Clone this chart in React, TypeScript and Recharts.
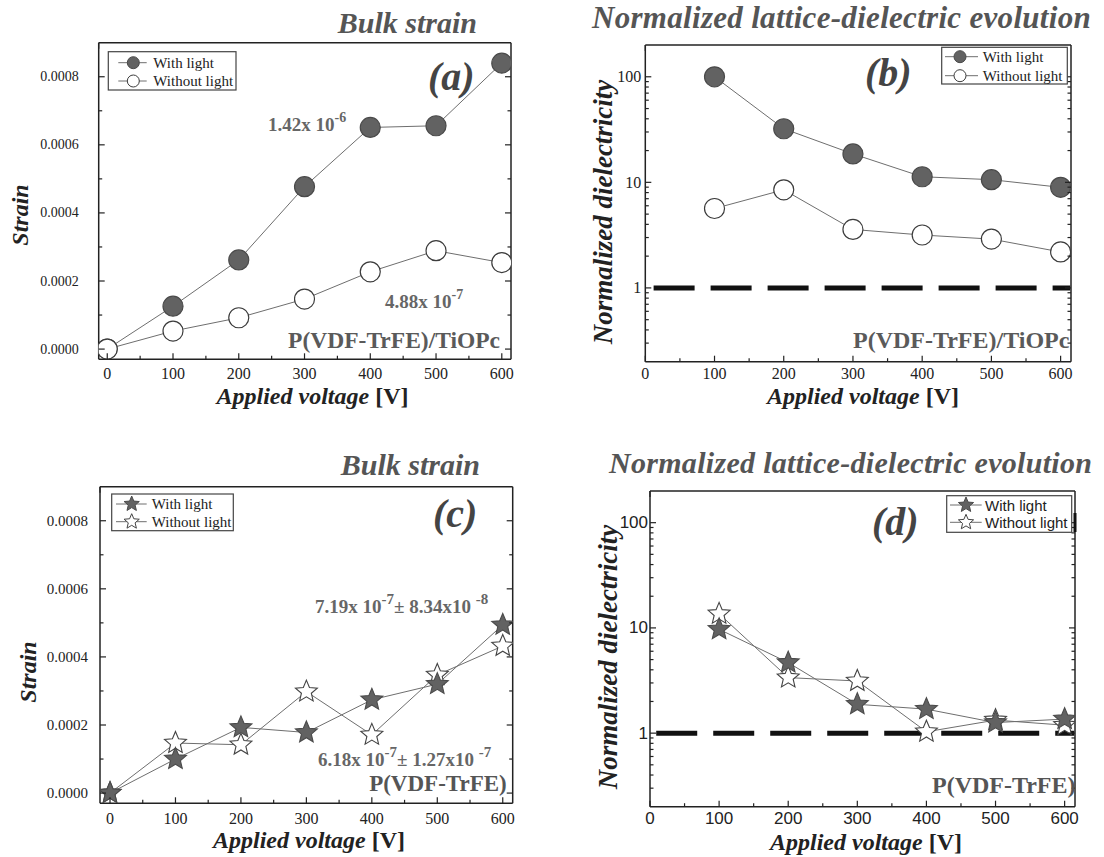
import React from "react";
import { LineChart, Line, XAxis, YAxis, ReferenceLine } from "recharts";

// ---- data ----
const voltage = [0, 100, 200, 300, 400, 500, 600];
const voltageLog = [100, 200, 300, 400, 500, 600];

const strainLightA = [0, 0.000126, 0.000262, 0.000477, 0.000651, 0.000656, 0.00084];
const strainDarkA = [0, 0.000053, 0.000092, 0.000147, 0.000227, 0.000289, 0.000254];

const dielLightB = [100, 32.2, 18.6, 11.3, 10.6, 8.97];
const dielDarkB = [5.65, 8.5, 3.58, 3.17, 2.9, 2.19];

const strainLightC = [0, 0.0001, 0.000193, 0.000178, 0.000274, 0.00032, 0.000494];
const strainDarkC = [0, 0.000147, 0.000142, 0.000298, 0.000171, 0.000347, 0.000432];

const dielLightD = [9.7, 4.68, 1.88, 1.69, 1.26, 1.36];
const dielDarkD = [13.6, 3.37, 3.13, 1.03, 1.33, 1.19];

const voltTicks = [0, 50, 100, 150, 200, 250, 300, 350, 400, 450, 500, 550, 600];
const strainTicks = [0, 0.0001, 0.0002, 0.0003, 0.0004, 0.0005, 0.0006, 0.0007, 0.0008];
const logTicks = [
  0.3, 0.4, 0.5, 0.6, 0.7, 0.8, 0.9, 1, 2, 3, 4, 5, 6, 7, 8, 9, 10, 20, 30, 40, 50, 60, 70, 80, 90, 100,
];
const logLabels = [1, 10, 100];

const dataA = voltage.map((v, i) => ({ v, light: strainLightA[i], dark: strainDarkA[i] }));
const dataB = voltageLog.map((v, i) => ({ v, light: dielLightB[i], dark: dielDarkB[i] }));
const dataC = voltage.map((v, i) => ({ v, light: strainLightC[i], dark: strainDarkC[i] }));
const dataD = voltageLog.map((v, i) => ({ v, light: dielLightD[i], dark: dielDarkD[i] }));

const SERIF = "'Liberation Serif', 'Times New Roman', serif";
const SANS = "'Liberation Sans', Arial, sans-serif";
const AXIS = "#222";
const FILL = "#626262";
const EDGE = "#4a4a4a";
const LINE = "#6e6e6e";

type Side = "bottom" | "top" | "left" | "right";

function makeTick(
  side: Side,
  isMajor: (v: number) => boolean,
  fmt: ((v: number) => string) | null,
  font: string,
  size: number,
  gap: number
) {
  return (p: any) => {
    const { x, y, payload } = p;
    const v = payload.value;
    const major = isMajor(v);
    const len = major ? 6 : 3.5;
    let x2 = x;
    let y2 = y;
    if (side === "bottom") y2 = y - len;
    if (side === "top") y2 = y + len;
    if (side === "left") x2 = x + len;
    if (side === "right") x2 = x - len;
    return (
      <g>
        <line x1={x} y1={y} x2={x2} y2={y2} stroke={AXIS} strokeWidth={1.2} />
        {major && fmt && side === "bottom" && (
          <text x={x} y={y + gap} textAnchor="middle" dominantBaseline="central" fontFamily={font} fontSize={size} fill="#222">
            {fmt(v)}
          </text>
        )}
        {major && fmt && side === "left" && (
          <text x={x - gap} y={y} textAnchor="end" dominantBaseline="central" fontFamily={font} fontSize={size} fill="#222">
            {fmt(v)}
          </text>
        )}
      </g>
    );
  };
}

const isVoltMajor = (v: number) => v % 100 === 0;
const isStrainMajor = (v: number) => Math.round(v * 10000) % 2 === 0;
const isLogMajor = (v: number) => logLabels.includes(v);

interface AxisCfg {
  xDomain: [number, number];
  yDomain: [number, number];
  log: boolean;
  font: string;
  xSize: number;
  xGap: number;
  ySize: number;
  yGap: number;
}

// axes are 1px thick so the plot area is set by the margins (minus 1 on each side)
function frameAxes(c: AxisCfg) {
  const yTicks = c.log ? logTicks : strainTicks;
  const yMajor = c.log ? isLogMajor : isStrainMajor;
  const yFmt = c.log ? (v: number) => String(v) : (v: number) => v.toFixed(4);
  const axisLine = { stroke: AXIS, strokeWidth: 1.5 };
  return [
    <XAxis
      key="xb"
      xAxisId={0}
      type="number"
      dataKey="v"
      domain={c.xDomain}
      ticks={voltTicks}
      interval={0}
      height={1}
      tickSize={0}
      tickMargin={0}
      tickLine={false}
      axisLine={axisLine}
      allowDataOverflow
      tick={makeTick("bottom", isVoltMajor, (v) => String(v), c.font, c.xSize, c.xGap)}
    />,
    <XAxis
      key="xt"
      xAxisId="top"
      orientation="top"
      type="number"
      domain={c.xDomain}
      ticks={voltTicks}
      interval={0}
      height={1}
      tickSize={0}
      tickMargin={0}
      tickLine={false}
      axisLine={axisLine}
      allowDataOverflow
      tick={makeTick("top", isVoltMajor, null, c.font, c.xSize, 0)}
    />,
    <YAxis
      key="yl"
      yAxisId={0}
      type="number"
      scale={c.log ? "log" : "auto"}
      domain={c.yDomain}
      ticks={yTicks}
      interval={0}
      width={1}
      tickSize={0}
      tickMargin={0}
      tickLine={false}
      axisLine={axisLine}
      allowDataOverflow
      tick={makeTick("left", yMajor, yFmt, c.font, c.ySize, c.yGap)}
    />,
    <YAxis
      key="yr"
      yAxisId="right"
      orientation="right"
      type="number"
      scale={c.log ? "log" : "auto"}
      domain={c.yDomain}
      ticks={yTicks}
      interval={0}
      width={1}
      tickSize={0}
      tickMargin={0}
      tickLine={false}
      axisLine={axisLine}
      allowDataOverflow
      tick={makeTick("right", yMajor, null, c.font, c.ySize, 0)}
    />,
  ];
}

function starPoints(cx: number, cy: number, R: number, r: number) {
  const pts: string[] = [];
  for (let i = 0; i < 10; i++) {
    const a = -Math.PI / 2 + (i * Math.PI) / 5;
    const rad = i % 2 === 0 ? R : r;
    pts.push(`${cx + rad * Math.cos(a)},${cy + rad * Math.sin(a)}`);
  }
  return pts.join(" ");
}

const circleDot = (filled: boolean) => (p: any) => (
  <circle
    key={`c${p.index}`}
    cx={p.cx}
    cy={p.cy}
    r={10}
    fill={filled ? FILL : "#fff"}
    stroke={filled ? EDGE : "#3c3c3c"}
    strokeWidth={1.2}
  />
);

const starDot = (filled: boolean) => (p: any) => (
  <polygon
    key={`s${p.index}`}
    points={starPoints(p.cx, p.cy, 11.5, 5.2)}
    fill={filled ? FILL : "#fff"}
    stroke={filled ? EDGE : "#444"}
    strokeWidth={1.1}
  />
);

function Sup({ x, y, parts, size, supSize, fill, anchor }: any) {
  let up = false;
  return (
    <text x={x} y={y} fontFamily={SERIF} fontWeight="bold" fontSize={size} fill={fill} textAnchor={anchor || "start"}>
      {parts.map((pt: [string, boolean], i: number) => {
        const [t, s] = pt;
        let dy = 0;
        if (s && !up) dy = -9;
        if (!s && up) dy = 9;
        up = s;
        return (
          <tspan key={i} dy={dy} fontSize={s ? supSize : size}>
            {t}
          </tspan>
        );
      })}
    </text>
  );
}

function LegendBox({ x, y, w, h, rows, lineX, markX, textX, star, font }: any) {
  const labels = ["With light", "Without light"];
  return (
    <g>
      <rect x={x} y={y} width={w} height={h} fill="#fff" stroke="#444" strokeWidth={1.2} />
      {rows.map((ry: number, i: number) => (
        <g key={i}>
          <line x1={lineX[0]} y1={ry} x2={lineX[1]} y2={ry} stroke={LINE} strokeWidth={1} />
          {star ? (
            <polygon
              points={starPoints(markX, ry, 8, 3.6)}
              fill={i === 0 ? FILL : "#fff"}
              stroke={i === 0 ? EDGE : "#444"}
              strokeWidth={1}
            />
          ) : (
            <circle cx={markX} cy={ry} r={6} fill={i === 0 ? FILL : "#fff"} stroke={i === 0 ? EDGE : "#3c3c3c"} strokeWidth={1} />
          )}
          <text x={textX} y={ry} dominantBaseline="central" fontFamily={font} fontSize={15} fill="#222">
            {labels[i]}
          </text>
        </g>
      ))}
    </g>
  );
}

function Title({ x, y, anchor, size, spacing, children }: any) {
  return (
    <text
      x={x}
      y={y}
      textAnchor={anchor}
      fontFamily={SERIF}
      fontStyle="italic"
      fontWeight="bold"
      fontSize={size || 30}
      letterSpacing={spacing || 0}
      fill="#555"
    >
      {children}
    </text>
  );
}

function Tag({ x, y, children }: any) {
  return (
    <text x={x} y={y} fontFamily={SERIF} fontStyle="italic" fontWeight="bold" fontSize={40} fill="#444">
      {children}
    </text>
  );
}

function XTitle({ x, y }: any) {
  return (
    <text x={x} y={y} textAnchor="middle" fontFamily={SERIF} fontWeight="bold" fontSize={24} fill="#222">
      <tspan fontStyle="italic">Applied voltage </tspan>
      <tspan>[V]</tspan>
    </text>
  );
}

function YTitle({ x, y, size, children }: any) {
  return (
    <text
      x={x}
      y={y}
      transform={`rotate(-90 ${x} ${y})`}
      textAnchor="middle"
      fontFamily={SERIF}
      fontStyle="italic"
      fontWeight="bold"
      fontSize={size}
      fill="#222"
    >
      {children}
    </text>
  );
}

const box = (left: number, top: number, w: number, h: number): React.CSSProperties => ({
  position: "absolute",
  left,
  top,
  width: w,
  height: h,
});

export default function App() {
  return (
    <div style={{ position: "absolute", left: 0, top: 0, width: 1104, height: 857, background: "#fff", overflow: "hidden" }}>
      {/* (a) */}
      <div style={box(0, 0, 552, 428)}>
        <LineChart width={552} height={428} data={dataA} margin={{ top: 41.7, left: 97.7, right: 40, bottom: 67.7 }} style={{ overflow: "visible" }}>
          {frameAxes({ xDomain: [-13, 614], yDomain: [-0.00003, 0.0009], log: false, font: SERIF, xSize: 16, xGap: 14, ySize: 14, yGap: 20 })}
          <Line dataKey="light" stroke={LINE} strokeWidth={1} dot={circleDot(true)} activeDot={false} isAnimationActive={false} />
          <Line dataKey="dark" stroke={LINE} strokeWidth={1} dot={circleDot(false)} activeDot={false} isAnimationActive={false} />
        </LineChart>
      </div>

      {/* (b) */}
      <div style={box(552, 0, 552, 428)}>
        <LineChart width={552} height={428} data={dataB} margin={{ top: 44, left: 92.3, right: 32, bottom: 65.3 }} style={{ overflow: "visible" }}>
          {frameAxes({ xDomain: [0, 615], yDomain: [0.2, 200], log: true, font: SERIF, xSize: 16, xGap: 12, ySize: 16, yGap: 4 })}
          <ReferenceLine segment={[{ x: 12, y: 1 }, { x: 614, y: 1 }]} stroke="#111" strokeWidth={5} strokeDasharray="41 16" />
          <Line dataKey="light" stroke={LINE} strokeWidth={1} dot={circleDot(true)} activeDot={false} isAnimationActive={false} />
          <Line dataKey="dark" stroke={LINE} strokeWidth={1} dot={circleDot(false)} activeDot={false} isAnimationActive={false} />
        </LineChart>
      </div>

      {/* (c) */}
      <div style={box(0, 428, 552, 429)}>
        <LineChart width={552} height={429} data={dataC} margin={{ top: 57.7, left: 99, right: 38.3, bottom: 52.7 }} style={{ overflow: "visible" }}>
          {frameAxes({ xDomain: [-15.3, 615.2], yDomain: [-0.00003, 0.0009], log: false, font: SERIF, xSize: 16, xGap: 15, ySize: 15, yGap: 12 })}
          <Line dataKey="dark" stroke={LINE} strokeWidth={1} dot={starDot(false)} activeDot={false} isAnimationActive={false} />
          <Line dataKey="light" stroke={LINE} strokeWidth={1} dot={starDot(true)} activeDot={false} isAnimationActive={false} />
        </LineChart>
      </div>

      {/* (d) */}
      <div style={box(552, 428, 552, 429)}>
        <LineChart width={552} height={429} data={dataD} margin={{ top: 62, left: 97, right: 28, bottom: 49.3 }} style={{ overflow: "visible" }}>
          {frameAxes({ xDomain: [0, 615], yDomain: [0.2, 200], log: true, font: SANS, xSize: 17, xGap: 12, ySize: 17, yGap: 2 })}
          <ReferenceLine segment={[{ x: 9, y: 1 }, { x: 614, y: 1 }]} stroke="#111" strokeWidth={5} strokeDasharray="41 16" />
          <Line dataKey="dark" stroke={LINE} strokeWidth={1} dot={starDot(false)} activeDot={false} isAnimationActive={false} />
          <Line dataKey="light" stroke={LINE} strokeWidth={1} dot={starDot(true)} activeDot={false} isAnimationActive={false} />
        </LineChart>
      </div>

      {/* text, legends, labels */}
      <svg width={1104} height={857} style={{ position: "absolute", left: 0, top: 0, pointerEvents: "none" }}>
        <defs>
          <clipPath id="clipB">
            <rect x={645} y={45} width={426} height={317} />
          </clipPath>
          <clipPath id="clipD">
            <rect x={650} y={491} width={425} height={316} />
          </clipPath>
        </defs>

        {/* (a) */}
        <Title x={477} y={33} anchor="end">Bulk strain</Title>
        <Tag x={428} y={90}>(a)</Tag>
        <Sup x={268} y={131} size={19} supSize={14} fill="#666" parts={[["1.42x 10", false], ["-6", true]]} />
        <Sup x={385} y={308} size={19} supSize={14} fill="#666" parts={[["4.88x 10", false], ["-7", true]]} />
        <text x={500} y={348} textAnchor="end" fontFamily={SERIF} fontWeight="bold" fontSize={23.5} fill="#5a5a5a">
          P(VDF-TrFE)/TiOPc
        </text>
        <YTitle x={28} y={215} size={24}>Strain</YTitle>
        <XTitle x={312.5} y={404} />
        <LegendBox x={108.3} y={51.7} w={127.7} h={38.3} rows={[62.7, 81]} lineX={[118.3, 146.7]} markX={133.3} textX={153.3} font={SERIF} />

        {/* (b) */}
        <Title x={592} y={28} anchor="start" size={31} spacing={0.3}>Normalized lattice-dielectric evolution</Title>
        <Tag x={865} y={86}>(b)</Tag>
        <g clipPath="url(#clipB)">
          <text x={853} y={348} fontFamily={SERIF} fontWeight="bold" fontSize={24} fill="#5a5a5a">
            P(VDF-TrFE)/TiOPc
          </text>
        </g>
        <YTitle x={612} y={212} size={27}>Normalized dielectricity</YTitle>
        <XTitle x={863} y={404} />
        <LegendBox x={941.7} y={47.3} w={125.6} h={36.7} rows={[56.7, 75.7]} lineX={[945, 978]} markX={960} textX={982.7} font={SERIF} />

        {/* (c) */}
        <Title x={480} y={475} anchor="end">Bulk strain</Title>
        <Tag x={433} y={527}>(c)</Tag>
        <Sup
          x={315}
          y={613}
          size={19}
          supSize={15}
          fill="#666"
          parts={[["7.19x 10", false], ["-7", true], ["\u00b1 8.34x10 ", false], [" -8", true]]}
        />
        <Sup
          x={318}
          y={766}
          size={19}
          supSize={15}
          fill="#666"
          parts={[["6.18x 10", false], ["-7", true], ["\u00b1 1.27x10 ", false], [" -7", true]]}
        />
        <text x={506.7} y={791} textAnchor="end" fontFamily={SERIF} fontWeight="bold" fontSize={23} fill="#555">
          P(VDF-TrFE)
        </text>
        <YTitle x={36} y={672} size={24}>Strain</YTitle>
        <XTitle x={309} y={848} />
        <LegendBox x={111.7} y={494} w={121.6} h={36.7} rows={[504, 521.7]} lineX={[116, 146.7]} markX={131.7} textX={151.7} star font={SERIF} />

        {/* (d) */}
        <Title x={609} y={473} anchor="start" size={30} spacing={0.3}>Normalized lattice-dielectric evolution</Title>
        <Tag x={872} y={535}>(d)</Tag>
        <g clipPath="url(#clipD)">
          <text x={932} y={793} fontFamily={SERIF} fontWeight="bold" fontSize={24} fill="#555">
            P(VDF-TrFE)
          </text>
        </g>
        <YTitle x={617} y={657} size={27}>Normalized dielectricity</YTitle>
        <XTitle x={866} y={850} />
        <LegendBox x={946.7} y={495.7} w={125} h={36.6} rows={[505, 522.3]} lineX={[950, 981.7]} markX={966} textX={985} star font={SANS} />
        <rect x={1073.5} y={513} width={3} height={19} fill="#111" />
      </svg>
    </div>
  );
}
